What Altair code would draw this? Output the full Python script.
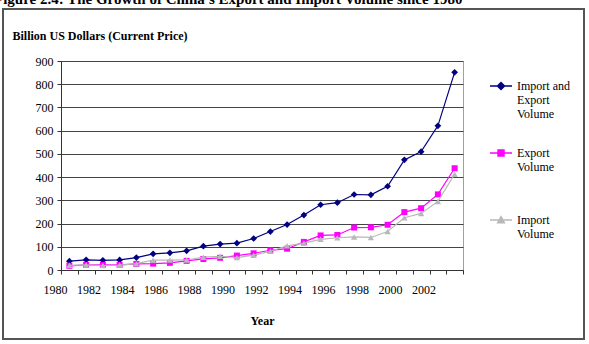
import json
import altair as alt
import pandas as pd

# ---- data ----
years = list(range(1980, 2004))
total = [38.1, 44.0, 41.6, 43.6, 53.5, 69.6, 73.8, 82.7, 102.8, 111.7, 115.4, 135.7,
         165.5, 195.7, 236.6, 280.9, 289.9, 325.2, 323.9, 360.6, 474.3, 509.7, 620.8, 851.2]
exports = [18.1, 22.0, 22.3, 22.2, 26.1, 27.4, 30.9, 39.4, 47.5, 52.5, 62.1, 71.8,
           84.9, 91.7, 121.0, 148.8, 151.0, 182.8, 183.7, 194.9, 249.2, 266.1, 325.6, 438.2]
imports = [20.0, 22.0, 19.3, 21.4, 27.4, 42.3, 42.9, 43.2, 55.3, 59.1, 53.3, 63.8,
           80.6, 104.0, 115.6, 132.1, 138.8, 142.4, 140.2, 165.7, 225.1, 243.6, 295.2, 412.8]

series_names = ["Import and Export Volume", "Export Volume", "Import Volume"]
legend_lines = [["Import and", "Export", "Volume"], ["Export", "Volume"], ["Import", "Volume"]]
x_tick_labels = ["1980", "1982", "1984", "1986", "1988", "1990",
                 "1992", "1994", "1996", "1998", "2000", "2002"]
y_ticks = [0, 100, 200, 300, 400, 500, 600, 700, 800, 900]

title_text = "Figure 2.4: The Growth of China's Export and Import Volume since 1980"
y_title = "Billion US Dollars (Current Price)"
x_title = "Year"

colors = ["#000080", "#FF00FF", "#B8B8B8"]
shapes = ["diamond", "square", "triangle-up"]
sizes = [45, 36, 40]
# legend symbols: a line segment with a small (hatched-solid) marker in the middle
legend_paths = [
    "M-1,0H1M0,-0.32L0.32,0L0,0.32L-0.32,0ZM-0.18,-0.14H0.18M-0.18,0.14H0.18",
    "M-1,0H1M-0.27,-0.27H0.27V0.27H-0.27ZM-0.27,-0.135H0.27M-0.27,0.135H0.27",
    "M-1,0H1M0,-0.3L0.3,0.24H-0.3ZM-0.23,0.12H0.23M-0.11,-0.1H0.11",
]

rows = []
for name, vals in zip(series_names, [total, exports, imports]):
    for y, v in zip(years, vals):
        rows.append({"year": y, "value": v, "series": name})
df = pd.DataFrame(rows)

SERIF = "Liberation Serif"

# category boundaries for the tick marks
boundaries = [years[0] - 0.5 + k for k in range(len(years) + 1)]
label_expr = (
    "indexof(%s, toString(datum.value + 0.5)) >= 0 ? toString(datum.value + 0.5) : ''"
    % json.dumps(x_tick_labels)
)

def pad_lines(lines):
    out = list(lines)
    while len(out) < 4:
        out.append("")
    return out

legend_expr = ""
for name, lines in zip(series_names, legend_lines):
    legend_expr += "datum.label == %s ? %s : " % (json.dumps(name), json.dumps(pad_lines(lines)))
legend_expr += "datum.label"

x_enc = alt.X(
    "year:Q",
    scale=alt.Scale(domain=[boundaries[0], boundaries[-1]], nice=False, zero=False),
    axis=alt.Axis(
        values=boundaries, labelExpr=label_expr, labelOffset=-6, labelFlush=False,
        labelBound=False, labelOverlap=False, tickSize=4, labelPadding=10,
        labelFont=SERIF, labelFontSize=12, labelColor="black",
        grid=False, title=x_title, titleY=50, titleBaseline="middle",
        titleFont=SERIF, titleFontSize=12, titleFontWeight="bold",
    ),
)
y_enc = alt.Y(
    "value:Q",
    scale=alt.Scale(domain=[0, 900], nice=False),
    axis=alt.Axis(
        values=y_ticks, tickSize=4, labelPadding=4, grid=True, labelOverlap=False,
        labelFont=SERIF, labelFontSize=12, labelColor="black",
        title=y_title, titleAngle=0, titleAlign="left", titleBaseline="middle",
        titleX=-49, titleY=-26, titleFont=SERIF, titleFontSize=12, titleFontWeight="bold",
    ),
)

frame = alt.Chart(alt.Data(values=[{"a": 1}])).mark_rect(
    fillOpacity=0, stroke="#555555", strokeWidth=2
).encode(
    x=alt.value(-58), x2=alt.value(523), y=alt.value(-52), y2=alt.value(278)
)

heading = alt.Chart(alt.Data(values=[{"t": title_text}])).mark_text(
    font=SERIF, fontSize=15, fontWeight="bold", color="black",
    align="left", baseline="alphabetic",
).encode(
    text="t:N", x=alt.value(-67), y=alt.value(-57)
)

series_layers = []
for name, shp, sz, col in zip(series_names, shapes, sizes, colors):
    base = alt.Chart().transform_filter(alt.datum.series == name)
    series_layers.append(
        base.mark_line(strokeWidth=1.2, color=col).encode(x=x_enc, y=y_enc)
    )
    series_layers.append(
        base.mark_point(filled=True, opacity=1, shape=shp, size=sz, color=col).encode(x=x_enc, y=y_enc)
    )

leg = alt.Legend(
    title=None, orient="none", legendX=428, legendY=13, labelExpr=legend_expr,
    labelFont=SERIF, labelFontSize=12, labelColor="black", symbolSize=484,
    symbolStrokeWidth=1.5, rowPadding=7, padding=0, labelOffset=4, labelLimit=200,
    labelBaseline="middle", symbolOpacity=1,
)

legend_layer = alt.Chart().transform_filter("false").mark_point(
    filled=False, opacity=1, strokeWidth=1.5
).encode(
    x=x_enc, y=y_enc,
    stroke=alt.Stroke("series:N", scale=alt.Scale(domain=series_names, range=colors), legend=leg),
    shape=alt.Shape("series:N", scale=alt.Scale(domain=series_names, range=legend_paths), legend=leg),
)

chart = alt.layer(frame, heading, *series_layers, legend_layer, data=df).properties(
    width=402, height=209,
    padding={"left": 61, "top": 61, "right": 126, "bottom": 74},
    autosize=alt.AutoSizeParams(type="none"),
    background="white",
).configure_view(
    stroke="#A0A0A0", strokeWidth=1
).configure_axis(
    domainColor="#333333", tickColor="#333333", gridColor="#444444", gridWidth=1,
    titleColor="black",
)

chart.save("out.html", embed_options={"renderer": "svg", "actions": False})
